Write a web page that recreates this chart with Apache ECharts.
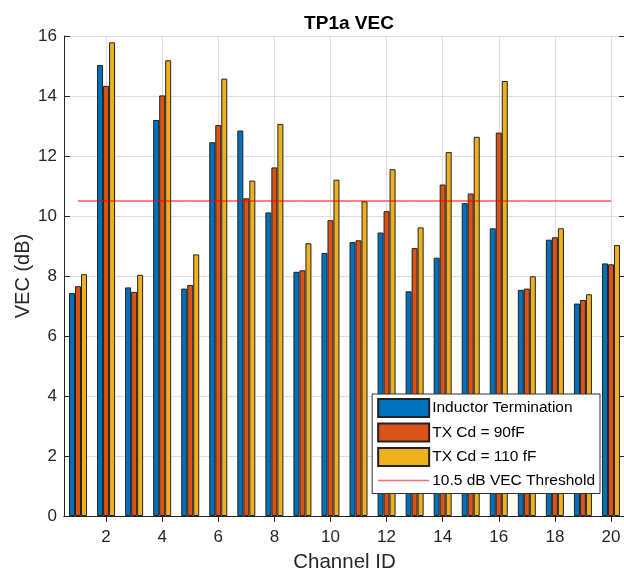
<!DOCTYPE html>
<html>
<head>
<meta charset="utf-8">
<script src="https://cdn.jsdelivr.net/npm/echarts@6/dist/echarts.min.js"></script>
<style>
html,body{margin:0;padding:0;background:#fff;}
#chart{width:624px;height:571px;}
</style>
</head>
<body>
<div id="chart"></div>
<script>
const channels = ['1','2','3','4','5','6','7','8','9','10','11','12','13','14','15','16','17','18','19','20'];
const inductorTermination = [7.43,15.03,7.62,13.20,7.58,12.46,12.85,10.12,8.14,8.77,9.13,9.45,7.49,8.61,10.43,9.59,7.54,9.21,7.08,8.42];
const txCd90 = [7.66,14.34,7.47,14.02,7.70,13.03,10.59,11.62,8.19,9.86,9.19,10.16,8.93,11.05,10.75,12.78,7.58,9.29,7.20,8.39];
const txCd110 = [8.06,15.79,8.04,15.19,8.72,14.58,11.18,13.07,9.09,11.21,10.49,11.56,9.62,12.13,12.64,14.50,7.99,9.59,7.39,9.03];
const thresholdValue = 10.5;
const threshold = channels.map(() => thresholdValue);
const yTicks = [0,2,4,6,8,10,12,14,16];

const FONT = 'Liberation Sans';
const TXT = '#262626';
const evenOnly = (i) => i % 2 === 1;

const chart = echarts.init(document.getElementById('chart'), null, {renderer:'canvas'});
const barStyle = (c) => ({color:c, borderColor:'#222', borderWidth:1});

chart.setOption({
  animation:false,
  backgroundColor:'#fff',
  textStyle:{fontFamily:FONT},
  title:{
    text:'TP1a VEC', left:344, top:9, textAlign:'center',
    textStyle:{fontFamily:FONT, fontSize:19, fontWeight:'bold', color:'#000'}
  },
  grid:{left:64, top:36, right:-1, bottom:55, containLabel:false, outerBoundsMode:'none'},
  legend:{
    orient:'vertical', right:24, top:394,
    itemWidth:51, itemHeight:18, itemGap:4.5,
    padding:[4,5,4,5],
    backgroundColor:'#fff', borderColor:'#333', borderWidth:1,
    textStyle:{fontFamily:FONT, fontSize:15.5, color:'#000', lineHeight:18, padding:[0,0,0,-2]},
    data:[
      {name:'Inductor Termination', icon:'rect'},
      {name:'TX Cd = 90fF', icon:'rect'},
      {name:'TX Cd = 110 fF', icon:'rect'},
      {name:'10.5 dB VEC Threshold', itemStyle:{opacity:0}, lineStyle:{color:'#f07070', width:1.5}}
    ]
  },
  xAxis:[{
    type:'category', data:channels, boundaryGap:true,
    name:'Channel ID', nameLocation:'middle', nameGap:36, nameMoveOverlap:false,
    nameTextStyle:{fontFamily:FONT, fontSize:20.5, color:TXT},
    axisLine:{lineStyle:{color:TXT, width:1}},
    axisTick:{show:true, inside:true, length:6, alignWithLabel:true, interval:evenOnly, lineStyle:{color:TXT}},
    axisLabel:{interval:evenOnly, fontFamily:FONT, fontSize:17, color:TXT, margin:13},
    splitLine:{show:true, alignWithLabel:true, interval:evenOnly, lineStyle:{color:'#dedede', width:1}}
  },{
    type:'category', data:channels, position:'top', boundaryGap:true,
    axisLine:{lineStyle:{color:TXT, width:1}},
    axisTick:{show:true, inside:true, length:6, alignWithLabel:true, interval:evenOnly, lineStyle:{color:TXT}},
    axisLabel:{show:false}, splitLine:{show:false}
  }],
  yAxis:[{
    type:'value', min:0, max:16, interval:2,
    name:'VEC (dB)', nameLocation:'middle', nameGap:31, nameMoveOverlap:false,
    nameTextStyle:{fontFamily:FONT, fontSize:20, color:TXT},
    axisLine:{show:true, lineStyle:{color:TXT, width:1}},
    axisTick:{show:true, inside:true, length:6, lineStyle:{color:TXT}},
    axisLabel:{fontFamily:FONT, fontSize:17, color:TXT, margin:7,
      formatter:(v) => yTicks.includes(v) ? String(v) : ''},
    splitLine:{show:true, lineStyle:{color:'#dedede', width:1}}
  },{
    type:'value', min:0, max:16, interval:2, position:'right',
    axisLine:{show:true, lineStyle:{color:TXT, width:1}},
    axisTick:{show:true, inside:true, length:6, lineStyle:{color:TXT}},
    axisLabel:{show:false}, splitLine:{show:false}
  }],
  series:[
    {name:'Inductor Termination', type:'bar', data:inductorTermination, barWidth:6, barGap:'0%', itemStyle:barStyle('#0072BD')},
    {name:'TX Cd = 90fF', type:'bar', data:txCd90, barWidth:6, barGap:'0%', itemStyle:barStyle('#D95319')},
    {name:'TX Cd = 110 fF', type:'bar', data:txCd110, barWidth:6, barGap:'0%', itemStyle:barStyle('#EDB120')},
    {name:'10.5 dB VEC Threshold', type:'line', data:threshold, symbol:'none', showSymbol:false,
     lineStyle:{color:'#ff0000', width:1}, itemStyle:{color:'#ff0000'}, z:5}
  ]
});
</script>
</body>
</html>
